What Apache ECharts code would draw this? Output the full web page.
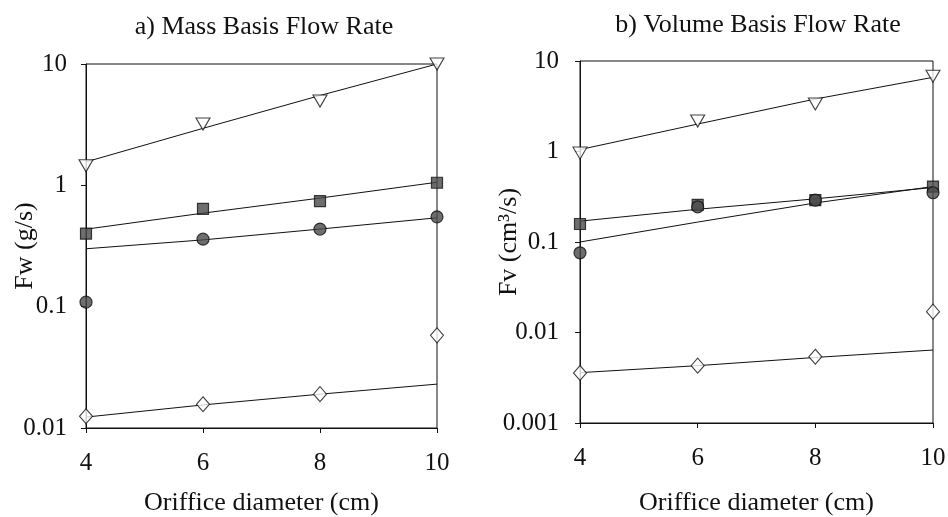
<!DOCTYPE html>
<html>
<head>
<meta charset="utf-8">
<script src="https://cdn.jsdelivr.net/npm/echarts@6/dist/echarts.min.js"></script>
<style>
html,body{margin:0;padding:0;background:#fff;}
#c{width:948px;height:517px;}
</style>
</head>
<body>
<div id="c"></div>
<script>
// ---- data ----
var diameters = [4, 6, 8, 10];
var xTickLabels = ['4', '6', '8', '10'];
var massTickLabels = ['0.01', '0.1', '1', '10'];
var volTickLabels = ['0.001', '0.01', '0.1', '1', '10'];

// a) mass basis (g/s)
var massTriangle = [1.45, 3.2, 4.95, 10];
var massTriangleFit = [1.56, 2.95, 5.5, 10];
var massSquare = [0.40, 0.64, 0.74, 1.05];
var massSquareFit = [0.435, 0.59, 0.785, 1.06];
var massCircle = [0.109, 0.36, 0.436, 0.55];
var massCircleFit = [0.30, 0.355, 0.436, 0.54];
var massDiamond = [0.0125, 0.0157, 0.019, 0.058];
var massDiamondFit = [0.0123, 0.0155, 0.019, 0.023];

// b) volume basis (cm3/s)
var volTriangle = [0.96, 2.17, 3.35, 6.8];
var volTriangleFit = [1.05, 2.01, 3.8, 6.6];
var volSquare = [0.158, 0.257, 0.29, 0.41];
var volSquareFit = [0.17, 0.23, 0.30, 0.40];
var volCircle = [0.076, 0.245, 0.29, 0.35];
var volCircleFit = [0.10, 0.166, 0.27, 0.41];
var volDiamond = [0.00357, 0.0043, 0.0054, 0.017];
var volDiamondFit = [0.0036, 0.0043, 0.0053, 0.0064];

// ---- helpers ----
function pairs(ys) { return diameters.map(function (x, i) { return [x, ys[i]]; }); }
var FONT = '"Liberation Serif", "DejaVu Serif", serif';
var INK = '#111';

function fitLine(ys, idx) {
  return { type: 'line', xAxisIndex: idx, yAxisIndex: idx, data: pairs(ys), showSymbol: false,
    symbol: 'none', lineStyle: { color: INK, width: 1 }, z: 2, silent: true };
}
function marks(ys, idx, kind) {
  var s = { type: 'scatter', xAxisIndex: idx, yAxisIndex: idx, data: pairs(ys), z: 5, clip: false, silent: true };
  if (kind === 'tri') { s.symbol = 'triangle'; s.symbolRotate = 180; s.symbolSize = [14, 12];
    s.itemStyle = { color: '#fff', borderColor: INK, borderWidth: 1.1 }; }
  if (kind === 'sq') { s.symbol = 'rect'; s.symbolSize = 11;
    s.itemStyle = { color: '#4a4a4a', borderColor: '#111', borderWidth: 1.2 }; }
  if (kind === 'ci') { s.symbol = 'circle'; s.symbolSize = 12;
    s.itemStyle = { color: '#4a4a4a', borderColor: '#111', borderWidth: 1.2 }; }
  if (kind === 'di') { s.symbol = 'diamond'; s.symbolSize = [13, 15];
    s.itemStyle = { color: '#fff', borderColor: INK, borderWidth: 1.1 }; }
  return s;
}
function logLabel(labels, minExp) {
  return function (v) { var k = Math.round(Math.log10(v)) - minExp; return labels[k] !== undefined ? labels[k] : ''; };
}
function xAxisCfg(idx, gap) {
  return { type: 'value', gridIndex: idx, min: 4, max: 10, interval: 2,
    name: 'Oriffice diameter (cm)', nameLocation: 'middle', nameGap: gap, nameMoveOverlap: false,
    nameTextStyle: { fontFamily: FONT, fontSize: 26, color: INK },
    axisLine: { lineStyle: { color: INK, width: 1 } },
    axisTick: { show: true, inside: false, length: 5, lineStyle: { color: INK } },
    axisLabel: { fontFamily: FONT, fontSize: 25, color: INK, margin: 23,
      formatter: function (v) { return xTickLabels[diameters.indexOf(v)] || ''; } },
    splitLine: { show: false } };
}
function yAxisCfg(idx, min, max, labels, minExp, name, gap, margin) {
  return { type: 'log', logBase: 10, gridIndex: idx, min: min, max: max,
    name: name, nameLocation: 'middle', nameGap: gap, nameMoveOverlap: false,
    nameTextStyle: { fontFamily: FONT, fontSize: 26, color: INK },
    axisLine: { show: true, lineStyle: { color: INK, width: 1 } },
    axisTick: { show: true, inside: false, length: 5, lineStyle: { color: INK } },
    minorTick: { show: false },
    axisLabel: { fontFamily: FONT, fontSize: 25, color: INK, margin: margin, formatter: logLabel(labels, minExp) },
    splitLine: { show: false } };
}

var chart = echarts.init(document.getElementById('c'), null, { renderer: 'canvas' });
chart.setOption({
  backgroundColor: '#fff',
  animation: false,
  title: [
    { text: 'a) Mass Basis Flow Rate', left: 259, top: 9, textAlign: 'center',
      textStyle: { fontFamily: FONT, fontSize: 26, fontWeight: 'normal', color: INK } },
    { text: 'b) Volume Basis Flow Rate', left: 753, top: 7, textAlign: 'center',
      textStyle: { fontFamily: FONT, fontSize: 26, fontWeight: 'normal', color: INK } }
  ],
  grid: [
    { left: 86, right: 511, top: 64, bottom: 89, show: true, borderColor: INK, borderWidth: 1,
      backgroundColor: 'transparent', containLabel: false, outerBoundsMode: 'none' },
    { left: 580, right: 15, top: 61, bottom: 94, show: true, borderColor: INK, borderWidth: 1,
      backgroundColor: 'transparent', containLabel: false, outerBoundsMode: 'none' }
  ],
  xAxis: [xAxisCfg(0, 62), xAxisCfg(1, 67)],
  yAxis: [
    yAxisCfg(0, 0.01, 10, massTickLabels, -2, 'Fw (g/s)', 48, 19),
    yAxisCfg(1, 0.001, 10, volTickLabels, -3, 'Fv (cm\u00b3/s)', 58, 21)
  ],
  series: [
    fitLine(massTriangleFit, 0), fitLine(massSquareFit, 0), fitLine(massCircleFit, 0), fitLine(massDiamondFit, 0),
    marks(massTriangle, 0, 'tri'), marks(massSquare, 0, 'sq'), marks(massCircle, 0, 'ci'), marks(massDiamond, 0, 'di'),
    fitLine(volTriangleFit, 1), fitLine(volSquareFit, 1), fitLine(volCircleFit, 1), fitLine(volDiamondFit, 1),
    marks(volTriangle, 1, 'tri'), marks(volSquare, 1, 'sq'), marks(volCircle, 1, 'ci'), marks(volDiamond, 1, 'di')
  ]
});
</script>
</body>
</html>
